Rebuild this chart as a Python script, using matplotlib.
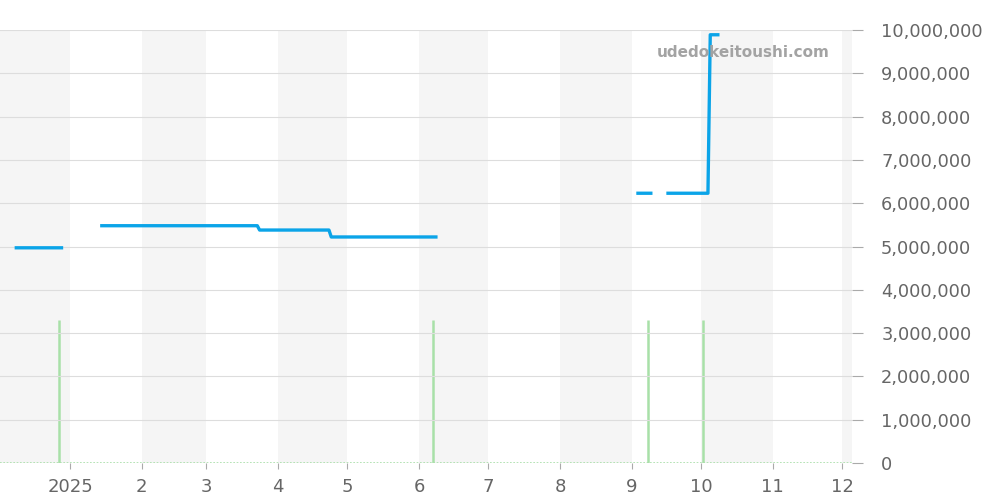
import matplotlib
matplotlib.use("Agg")
import matplotlib.pyplot as plt
import matplotlib.ticker as mticker
import numpy as np
import pandas as pd

# ---- data ----
price_dates = ["2024-12-08", "2024-12-29", "2025-01-05",
               "2025-01-14", "2025-03-23", "2025-03-24", "2025-04-23", "2025-04-24", "2025-06-09",
               "2025-07-01",
               "2025-09-03", "2025-09-10", "2025-09-12",
               "2025-09-16", "2025-10-04", "2025-10-05", "2025-10-09"]
prices = [4970000, 4970000, np.nan,
          5480000, 5480000, 5380000, 5380000, 5220000, 5220000,
          np.nan,
          6230000, 6230000, np.nan,
          6230000, 6230000, 9890000, 9890000]

volume_dates = ["2024-12-27", "2025-06-07", "2025-09-08", "2025-10-02"]
volumes = [1, 1, 1, 1]

month_starts = ["2024-12-01", "2025-01-01", "2025-02-01", "2025-03-01", "2025-04-01",
                "2025-05-01", "2025-06-01", "2025-07-01", "2025-08-01", "2025-09-01",
                "2025-10-01", "2025-11-01", "2025-12-01", "2026-01-01"]
tick_labels = ["2025", "2", "3", "4", "5", "6", "7", "8", "9", "10", "11", "12"]

x_start, x_end = "2024-12-01 16:00", "2025-12-05 08:00"

# ---- plot ----
fig = plt.figure(figsize=(10, 5), dpi=100)
ax = fig.add_axes([0.0, 0.074, 0.852, 0.866])
ax2 = ax.twinx()

ms = pd.to_datetime(month_starts)
for i in range(len(ms) - 1):
    if i % 2 == 0:
        ax2.axvspan(ms[i], ms[i + 1], color="#f5f5f5", lw=0, zorder=0)

# volume on twin axis (drawn below price axis)
ax2.set_ylim(0, 1 / 0.33)
vd = pd.to_datetime(volume_dates)
ax2.vlines(vd, 0, volumes, color="#a8e0a8", lw=1.8, zorder=2)
ax2.axhline(0, color="#a8e0a8", lw=1.2, ls=(0, (1, 1)), zorder=2)
ax2.set_yticks([])
for s in ax2.spines.values():
    s.set_visible(False)
ax2.set_xlim(pd.Timestamp(x_start), pd.Timestamp(x_end))

ax.set_zorder(ax2.get_zorder() + 1)
ax.patch.set_visible(False)

ax.set_ylim(0, 10000000)
ax.set_xlim(pd.Timestamp(x_start), pd.Timestamp(x_end))
ax.yaxis.set_major_locator(mticker.MultipleLocator(1000000))
ax.yaxis.set_major_formatter(mticker.FuncFormatter(lambda v, p: f"{int(v):,}"))
ax.grid(axis="y", color="#dddddd", lw=0.8, zorder=1)
ax.yaxis.tick_right()

pd_dates = pd.to_datetime(price_dates)
ax.plot(pd_dates, prices, color="#0ba4e8", lw=2.4, zorder=5, solid_capstyle="butt")

ticks = ms[1:13]
ax.set_xticks(ticks)
ax.set_xticklabels(tick_labels)
ax.tick_params(axis="x", length=4, color="#aaaaaa", labelcolor="#666666", labelsize=13, pad=7)
ax.tick_params(axis="y", length=8, color="#aaaaaa", labelcolor="#666666", labelsize=12.8, pad=13,
               right=True, left=False, labelright=True, labelleft=False)
for s in ax.spines.values():
    s.set_visible(False)

ax.text(0.974, 0.949, "udedokeitoushi.com", transform=ax.transAxes, ha="right", va="center",
        fontsize=11, fontweight="bold", color="#a3a3a3", zorder=6)

fig.savefig("out.png", dpi=100)
